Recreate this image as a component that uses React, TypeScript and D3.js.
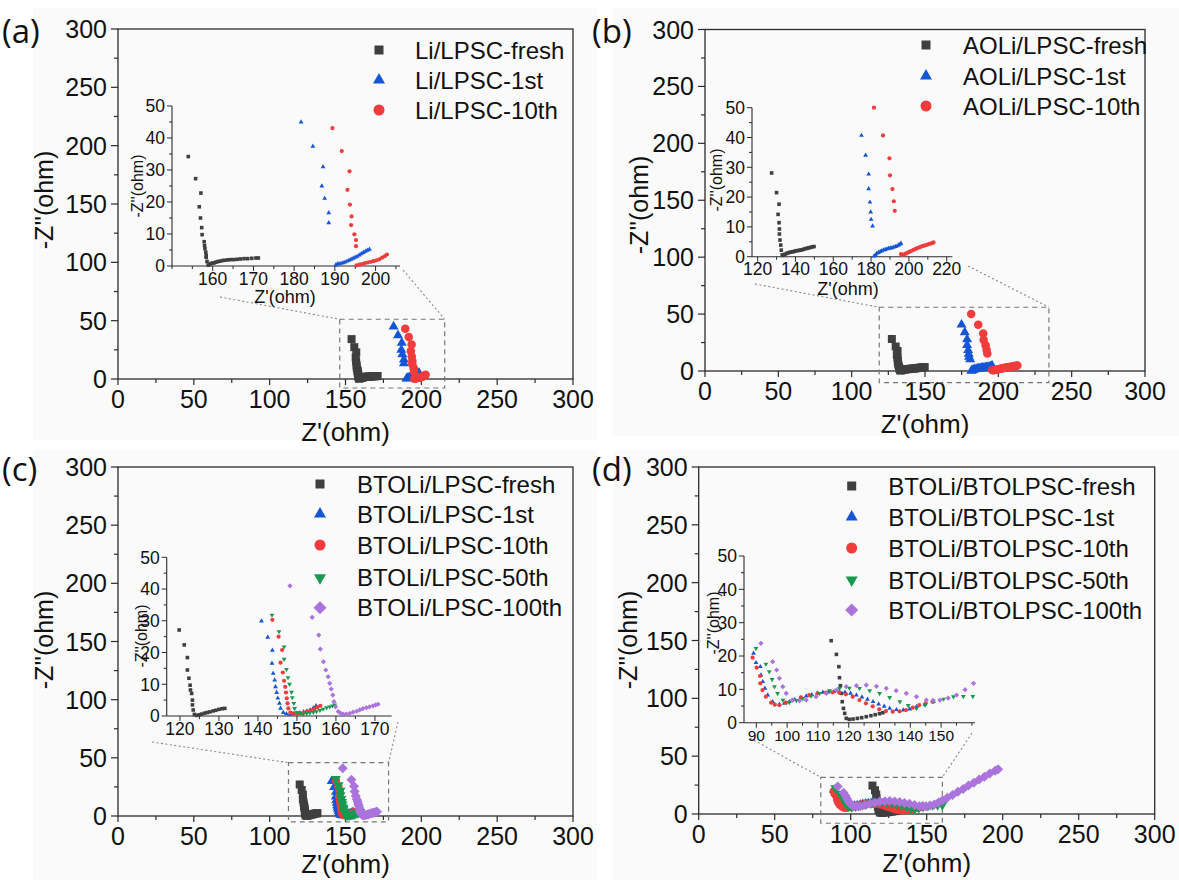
import React from 'react';
import * as d3 from 'd3';

type P = [number, number];

// ---------- DATA ----------
const MAIN_TICKS = [0, 50, 100, 150, 200, 250, 300];

const A_FRESH: P[] = [[154.0,34.2],[155.8,27.3],[157.1,22.8],[156.7,18.5],[157.0,15.0],[157.3,12.0],[157.4,9.8],[157.9,7.6],[158.0,6.4],[158.1,5.4],[158.3,4.3],[158.4,3.2],[158.4,2.7],[158.6,1.4],[158.9,0.3],[159.3,0.5],[159.6,0.8],[160.0,0.9],[160.4,1.0],[160.8,1.2],[161.3,1.4],[161.8,1.5],[162.4,1.7],[163.0,1.8],[163.7,1.9],[164.4,2.0],[165.2,2.0],[166.0,2.1],[166.8,2.2],[167.7,2.3],[168.6,2.3],[169.6,2.4],[170.6,2.5],[171.2,2.5]];
const A_1ST: P[] = [[181.7,45.0],[184.6,37.4],[187.1,31.0],[186.8,25.0],[187.5,21.1],[188.5,16.6],[188.5,13.5],[190.2,0.3],[190.6,0.6],[191.0,0.7],[191.5,0.8],[192.0,1.0],[192.5,1.2],[193.0,1.5],[193.5,1.8],[194.0,2.1],[194.5,2.4],[195.0,2.7],[195.5,3.0],[196.0,3.4],[196.5,3.8],[197.0,4.2],[197.5,4.6],[198.0,4.9],[198.5,5.2]];
const A_10TH: P[] = [[189.4,43.1],[191.7,35.9],[193.6,29.6],[193.1,23.8],[193.7,19.2],[194.1,15.5],[194.0,12.8],[194.8,9.9],[195.2,8.1],[195.2,6.2],[195.3,0.2],[196.0,0.4],[196.7,0.6],[197.4,0.9],[198.1,1.1],[198.8,1.3],[199.5,1.5],[200.2,1.8],[200.9,2.1],[201.6,2.6],[202.3,3.1],[202.8,3.6]];

const B_FRESH: P[] = [[127.4,28.1],[130.0,21.5],[131.3,17.6],[130.8,14.2],[131.3,11.4],[131.5,9.3],[131.5,7.6],[131.8,5.6],[132.2,3.9],[132.5,2.2],[133.0,0.6],[133.6,0.45],[134.4,0.8],[135.3,1.1],[136.2,1.3],[137.1,1.5],[138.0,1.6],[138.9,1.7],[139.8,1.9],[140.7,2.0],[141.6,2.1],[142.5,2.2],[143.4,2.3],[144.3,2.5],[145.2,2.7],[146.1,2.8],[147.0,3.0],[147.9,3.1],[148.8,3.3],[149.8,3.4]];
const B_1ST: P[] = [[174.9,40.7],[177.1,34.0],[178.7,27.7],[178.7,22.8],[179.4,18.3],[179.8,15.0],[180.0,12.5],[180.8,10.3],[181.6,0.2],[182.3,0.6],[183.0,1.1],[183.9,1.4],[184.8,1.7],[185.7,2.0],[186.6,2.2],[187.5,2.4],[188.4,2.6],[189.3,2.8],[190.2,2.9],[191.1,3.0],[192.0,3.2],[192.9,3.4],[193.8,3.6],[194.6,3.9],[195.3,4.2],[195.8,4.5]];
const B_10TH: P[] = [[181.5,50.0],[186.3,40.7],[189.7,33.0],[190.0,27.3],[191.3,22.7],[192.0,18.6],[192.5,15.4],[195.8,0.9],[196.6,0.6],[197.5,0.8],[198.5,1.1],[199.5,1.4],[200.5,1.7],[201.5,2.0],[202.5,2.3],[203.5,2.6],[204.5,2.9],[205.5,3.1],[206.5,3.4],[207.5,3.6],[208.5,3.8],[209.5,4.0],[210.5,4.2],[211.5,4.4],[212.3,4.6],[213.0,4.8]];

const C_FRESH: P[] = [[119.8,27.1],[121.1,22.4],[121.9,18.4],[121.9,14.5],[122.3,11.9],[122.6,9.7],[122.7,8.2],[123.0,7.1],[123.2,5.0],[123.2,3.5],[123.4,1.9],[123.7,0.5],[124.3,0.2],[125.0,0.4],[125.6,0.6],[126.3,0.9],[127.0,1.1],[127.7,1.3],[128.5,1.6],[129.2,1.8],[130.0,2.1],[130.8,2.3],[131.5,2.4]];
const C_1ST: P[] = [[140.9,29.9],[142.5,24.8],[143.7,20.7],[143.6,16.6],[143.9,13.4],[144.3,11.3],[144.5,9.2],[144.8,7.4],[145.1,5.6],[145.5,4.0],[145.8,2.4],[146.5,1.1],[147.3,0.7],[148.2,0.5],[149.0,0.6],[149.9,0.8],[150.8,1.0],[151.7,1.3],[152.6,1.6],[153.4,1.9],[154.2,2.5],[154.9,3.2]];
const C_10TH: P[] = [[143.7,30.3],[145.3,25.0],[146.2,20.8],[145.8,16.8],[146.4,13.7],[146.7,11.1],[147.0,9.2],[147.2,7.4],[147.4,5.6],[147.6,4.0],[147.8,2.4],[148.3,1.1],[149.1,0.8],[150.0,0.6],[150.9,0.8],[151.8,1.1],[152.6,1.4],[153.5,1.8],[154.4,2.2],[155.2,2.7],[156.0,3.2]];
const C_50TH: P[] = [[143.6,31.8],[145.4,26.6],[146.7,21.8],[146.7,17.9],[147.3,14.7],[147.7,12.1],[148.1,10.0],[148.6,7.5],[148.8,5.8],[149.2,4.0],[149.4,2.4],[150.0,1.1],[150.8,0.8],[151.6,0.6],[152.5,0.8],[153.3,1.0],[154.2,1.2],[155.0,1.4],[155.9,1.8],[156.7,2.2],[157.6,2.6],[158.4,2.9],[159.1,3.2],[159.7,3.5]];
const C_100TH: P[] = [[148.2,41.0],[153.9,31.1],[155.6,25.5],[156.0,21.1],[156.8,17.1],[157.4,14.5],[158.0,12.4],[158.4,10.3],[158.8,8.5],[159.2,6.6],[159.5,4.5],[159.9,2.9],[160.6,1.4],[161.2,0.9],[161.8,0.6],[162.6,0.6],[163.5,0.8],[164.4,1.2],[165.3,1.5],[166.1,1.9],[166.9,2.3],[167.8,2.6],[168.6,2.9],[169.5,3.2],[170.2,3.5],[170.8,3.7]];

const D_FRESH: P[] = [[114.3,24.6],[116.0,20.5],[116.8,16.8],[117.0,13.5],[117.3,11.1],[117.6,8.8],[117.9,6.3],[118.3,4.3],[118.7,2.8],[119.2,1.3],[120.2,1.0],[121.4,1.1],[122.8,1.3],[124.2,1.5],[125.7,1.8],[127.2,2.1],[128.6,2.4],[130.0,2.7],[131.1,3.0]];
const D_1ST: P[] = [[89.1,20.8],[89.9,18.0],[91.3,16.8],[91.5,14.3],[92.1,12.3],[92.8,10.3],[93.7,8.3],[95.3,6.3],[97.5,5.5],[99.1,5.8],[100.7,6.3],[102.5,6.9],[104.3,7.4],[106.2,8.0],[108.0,8.4],[109.8,8.8],[111.6,9.1],[113.4,9.2],[115.2,9.3],[117.0,9.3],[118.8,9.1],[120.6,8.8],[122.5,8.3],[124.3,7.7],[126.1,7.0],[127.9,6.3],[129.7,5.6],[131.5,4.9],[133.3,4.3],[135.5,3.9],[137.7,3.8],[139.8,4.1],[142.0,4.8],[144.7,5.5],[147.5,6.3]];
const D_10TH: P[] = [[88.8,19.5],[90.1,16.5],[91.2,14.0],[91.3,11.8],[92.0,9.8],[93.1,7.8],[94.8,6.0],[96.0,5.4],[97.5,5.3],[99.6,6.0],[101.8,6.8],[104.5,7.6],[107.2,8.3],[109.9,8.8],[112.6,9.0],[114.8,9.1],[116.9,9.0],[119.1,8.5],[121.3,7.8],[123.5,6.8],[125.6,5.8],[127.8,4.9],[129.9,4.0],[132.1,3.5],[134.3,3.3],[136.5,3.4],[138.6,3.8],[140.8,4.5],[142.9,5.3],[145.0,5.8],[147.2,6.3]];
const D_50TH: P[] = [[89.9,22.3],[93.1,17.6],[94.2,15.3],[95.1,13.0],[95.9,10.8],[96.9,8.8],[98.6,6.8],[100.7,6.1],[103.0,6.7],[105.1,7.3],[107.8,8.0],[110.5,8.8],[113.8,9.6],[117.0,10.3],[120.2,10.4],[123.5,10.3],[126.8,9.6],[130.0,8.8],[133.3,7.6],[136.6,6.3],[139.3,5.2],[142.0,4.3],[144.8,5.3],[147.5,6.3],[150.8,7.1],[154.0,7.8],[157.2,7.9],[160.3,7.9]];
const D_100TH: P[] = [[91.5,23.8],[95.3,18.3],[96.6,15.8],[97.5,13.3],[98.6,10.8],[99.7,8.8],[101.8,6.8],[104.0,6.6],[106.2,6.8],[109.4,7.8],[112.7,8.8],[116.0,9.8],[119.2,10.8],[122.5,11.1],[125.7,11.3],[129.0,10.9],[132.2,10.3],[135.4,9.6],[138.7,8.8],[142.0,7.8],[145.2,6.8],[147.4,6.7],[149.6,6.8],[152.3,7.4],[155.0,8.3],[157.8,9.9],[160.5,11.8],[163.5,14.0],[167.0,16.4],[170.5,19.3],[174.0,21.7],[177.5,24.6],[181.0,27.1],[184.5,29.9],[188.0,32.2],[191.5,35.0],[195.0,37.3],[197.0,38.6]];

const LEG_A = ['Li/LPSC-fresh', 'Li/LPSC-1st', 'Li/LPSC-10th'];
const LEG_B = ['AOLi/LPSC-fresh', 'AOLi/LPSC-1st', 'AOLi/LPSC-10th'];
const LEG_C = ['BTOLi/LPSC-fresh', 'BTOLi/LPSC-1st', 'BTOLi/LPSC-10th', 'BTOLi/LPSC-50th', 'BTOLi/LPSC-100th'];
const LEG_D = ['BTOLi/BTOLPSC-fresh', 'BTOLi/BTOLPSC-1st', 'BTOLi/BTOLPSC-10th', 'BTOLi/BTOLPSC-50th', 'BTOLi/BTOLPSC-100th'];

const INSET_TICKS_A = [160, 170, 180, 190, 200];
const INSET_TICKS_B = [120, 140, 160, 180, 200, 220];
const INSET_TICKS_C = [120, 130, 140, 150, 160, 170];
const INSET_TICKS_D = [90, 100, 110, 120, 130, 140, 150];
const INSET_Y_TICKS = [0, 10, 20, 30, 40, 50];

// zoom rectangles [x0, x1, y0, y1] in data units
const ZOOM_A = [146.2, 215.4, -7.7, 51.2];
const ZOOM_B = [118.8, 234.5, -10.3, 56];
const ZOOM_C = [112.4, 178.4, -5, 45.8];
const ZOOM_D = [80.3, 160.3, -8, 31.7];

// ---------- STYLE ----------
const FONT = "'Liberation Sans', Arial, Helvetica, sans-serif";
const AX = '#2b2b2b';
const COLORS = ['#3f3f3f', '#1556d6', '#f23b3b', '#179a4f', '#ab73dc'];
const SHAPES = ['square', 'triangle', 'circle', 'down', 'diamond'];

function symPath(shape: string, w: number): string {
  switch (shape) {
    case 'square': return d3.symbol(d3.symbolSquare, w * w)() as string;
    case 'circle': return d3.symbol(d3.symbolCircle, (Math.PI * w * w) / 4)() as string;
    case 'triangle':
    case 'down': return d3.symbol(d3.symbolTriangle, (Math.sqrt(3) / 4) * w * w)() as string;
    case 'diamond': return d3.symbol(d3.symbolSquare, (w * w) / 2)() as string;
  }
  return '';
}
function symRot(shape: string) {
  if (shape === 'down') return ' rotate(180)';
  if (shape === 'diamond') return ' rotate(45)';
  return '';
}
const MAIN_W: Record<string, number> = { square: 8, triangle: 10, circle: 8.5, down: 10, diamond: 10 };
const INSET_W: Record<string, number> = { square: 3.6, triangle: 4.8, circle: 4.2, down: 4.8, diamond: 5.2 };
const LEG_W: Record<string, number> = { square: 9, triangle: 12, circle: 11, down: 12, diamond: 13 };

interface Cfg {
  label: string; labelX: number; labelY: number;
  x0: number; x1: number; y0: number; y1: number;
  yTitleX: number; yTitleY: number; xTitleDy: number;
  series: P[][]; legend: string[];
  legX: number; legTX: number; legY: number[];
  inX: [number, number]; inXR: [number, number]; inYR: [number, number];
  inTicks: number[]; inMinor: number; inTickFont: number; inTitle: [number, number] | null;
  inYTitle: [number, number];
  zoom: number[]; conn: [number, number][];
  bg: [number, number, number, number];
}

const PANELS: Cfg[] = [
  {
    label: '(a)', labelX: 2, labelY: 43, x0: 118, x1: 573, y0: 379, y1: 29,
    yTitleX: 44, yTitleY: 200, xTitleDy: 62, series: [A_FRESH, A_1ST, A_10TH], legend: LEG_A,
    legX: 379, legTX: 415, legY: [50, 80, 110],
    inX: [150, 206], inXR: [172, 400], inYR: [266, 106], inTicks: INSET_TICKS_A, inMinor: 5, inTickFont: 17.5,
    inTitle: [285, 303], inYTitle: [137, 186], zoom: ZOOM_A, conn: [[220, 297], [403, 270]],
    bg: [33, 8, 597, 440],
  },
  {
    label: '(b)', labelX: 592, labelY: 43, x0: 705, x1: 1145, y0: 371, y1: 29.5,
    yTitleX: 639, yTitleY: 205, xTitleDy: 62, series: [B_FRESH, B_1ST, B_10TH], legend: LEG_B,
    legX: 926, legTX: 963, legY: [45, 76, 106],
    inX: [117, 223], inXR: [752, 952.4], inYR: [256.7, 107.7], inTicks: INSET_TICKS_B, inMinor: 10, inTickFont: 17.5,
    inTitle: [848, 295], inYTitle: [716, 180], zoom: ZOOM_B, conn: [[755, 284], [968, 266]],
    bg: [613, 8, 1179, 436],
  },
  {
    label: '(c)', labelX: 2, labelY: 481, x0: 118, x1: 573, y0: 816, y1: 467,
    yTitleX: 44, yTitleY: 640, xTitleDy: 57, series: [C_FRESH, C_1ST, C_10TH, C_50TH, C_100TH], legend: LEG_C,
    legX: 320, legTX: 357, legY: [484, 514, 545, 577.7, 607.7],
    inX: [116.6, 174.3], inXR: [166.7, 391.7], inYR: [716, 557.3], inTicks: INSET_TICKS_C, inMinor: 5, inTickFont: 17.5,
    inTitle: null, inYTitle: [141, 636], zoom: ZOOM_C, conn: [[152, 742], [398, 722]],
    bg: [33, 450, 597, 880],
  },
  {
    label: '(d)', labelX: 592, labelY: 481, x0: 698.7, x1: 1154.7, y0: 814, y1: 467,
    yTitleX: 628, yTitleY: 640, xTitleDy: 58, series: [D_FRESH, D_1ST, D_10TH, D_50TH, D_100TH], legend: LEG_D,
    legX: 851.7, legTX: 888.3, legY: [486, 517, 548, 580, 610],
    inX: [86, 161], inXR: [744, 975], inYR: [722.7, 556], inTicks: INSET_TICKS_D, inMinor: 5, inTickFont: 15.5,
    inTitle: null, inYTitle: [713, 623], zoom: ZOOM_D, conn: [[750, 738], [972, 733]],
    bg: [613, 450, 1179, 880],
  },
];

function Markers({ data, shape, color, w, x, y }: any) {
  const d = symPath(shape, w);
  const r = symRot(shape);
  return (
    <g fill={color}>
      {data.map((p: P, i: number) => (
        <path key={i} d={d} transform={`translate(${x(p[0])},${y(p[1])})${r}`} />
      ))}
    </g>
  );
}

function Panel({ c }: { c: Cfg }) {
  const x = d3.scaleLinear().domain([0, 300]).range([c.x0, c.x1]);
  const y = d3.scaleLinear().domain([0, 300]).range([c.y0, c.y1]);
  const minor = d3.range(0, 301, 25);
  const ix = d3.scaleLinear().domain(c.inX).range(c.inXR);
  const iy = d3.scaleLinear().domain([0, 50]).range(c.inYR);
  const iMinorX = d3.range(Math.ceil(c.inX[0] / c.inMinor) * c.inMinor, c.inX[1] + 0.01, c.inMinor);
  const iMinorY = d3.range(0, 50.01, 5);
  const z = c.zoom;
  const zx0 = x(z[0]), zx1 = x(z[1]), zy0 = y(z[3]), zy1 = y(z[2]);
  return (
    <g>
      <rect x={c.bg[0]} y={c.bg[1]} width={c.bg[2] - c.bg[0]} height={c.bg[3] - c.bg[1]} fill="#fafafa" />
      <text x={c.labelX} y={c.labelY} fontFamily="'Open Sans', 'Noto Sans', sans-serif" fontSize={33} fill="#111">{c.label}</text>

      {/* main frame */}
      <rect x={c.x0} y={c.y1} width={c.x1 - c.x0} height={c.y0 - c.y1} fill="none" stroke={AX} strokeWidth={1.3} />
      {minor.map((t) => (
        <g key={'m' + t}>
          <line x1={x(t)} x2={x(t)} y1={c.y0} y2={c.y0 + (t % 50 === 0 ? 6 : 4)} stroke={AX} strokeWidth={1.2} />
          <line x1={c.x0} x2={c.x0 - (t % 50 === 0 ? 7 : 4)} y1={y(t)} y2={y(t)} stroke={AX} strokeWidth={1.2} />
        </g>
      ))}
      {MAIN_TICKS.map((t) => (
        <g key={'t' + t} fontFamily={FONT} fontSize={25} fill="#111">
          <text x={x(t)} y={c.y0 + 29} textAnchor="middle">{t}</text>
          <text x={c.x0 - 11} y={y(t) + 9} textAnchor="end">{t}</text>
        </g>
      ))}
      <text x={(c.x0 + c.x1) / 2} y={c.y0 + c.xTitleDy} textAnchor="middle" fontFamily={FONT} fontSize={26} fill="#111">Z'(ohm)</text>
      <text transform={`translate(${c.yTitleX},${c.yTitleY}) rotate(-90)`} textAnchor="middle" dominantBaseline="central" fontFamily={FONT} fontSize={25} fill="#111">-Z''(ohm)</text>

      {/* zoom box + connectors */}
      <rect x={zx0} y={zy0} width={zx1 - zx0} height={zy1 - zy0} fill="none" stroke="#777" strokeWidth={1.2} strokeDasharray="5,4" />
      <line x1={c.conn[0][0]} y1={c.conn[0][1]} x2={zx0} y2={zy0} stroke="#888" strokeWidth={1.1} strokeDasharray="2,2.5" />
      <line x1={c.conn[1][0]} y1={c.conn[1][1]} x2={zx1} y2={zy0} stroke="#888" strokeWidth={1.1} strokeDasharray="2,2.5" />

      {/* main markers */}
      {c.series.map((s, i) => (
        <Markers key={'ms' + i} data={s} shape={SHAPES[i]} color={COLORS[i]} w={MAIN_W[SHAPES[i]]} x={x} y={y} />
      ))}

      {/* legend */}
      {c.legend.map((name, i) => (
        <g key={'l' + i}>
          <path d={symPath(SHAPES[i], LEG_W[SHAPES[i]])} transform={`translate(${c.legX},${c.legY[i]})${symRot(SHAPES[i])}`} fill={COLORS[i]} />
          <text x={c.legTX} y={c.legY[i] + 8.5} fontFamily={FONT} fontSize={24} fill="#111">{name}</text>
        </g>
      ))}

      {/* inset */}
      <line x1={c.inXR[0]} x2={c.inXR[1]} y1={c.inYR[0]} y2={c.inYR[0]} stroke={AX} strokeWidth={1.1} />
      <line x1={c.inXR[0]} x2={c.inXR[0]} y1={c.inYR[0]} y2={c.inYR[1]} stroke={AX} strokeWidth={1.1} />
      {iMinorX.map((t) => (
        <line key={'ix' + t} x1={ix(t)} x2={ix(t)} y1={c.inYR[0]} y2={c.inYR[0] + (c.inTicks.includes(t) ? 5 : 3)} stroke={AX} strokeWidth={1} />
      ))}
      {iMinorY.map((t) => (
        <line key={'iy' + t} x1={c.inXR[0]} x2={c.inXR[0] - (t % 10 === 0 ? 5 : 3)} y1={iy(t)} y2={iy(t)} stroke={AX} strokeWidth={1} />
      ))}
      {c.inTicks.map((t) => (
        <text key={'ixl' + t} x={ix(t)} y={c.inYR[0] + 18.5} textAnchor="middle" fontFamily={FONT} fontSize={c.inTickFont} fill="#111">{t}</text>
      ))}
      {INSET_Y_TICKS.map((t) => (
        <text key={'iyl' + t} x={c.inXR[0] - 7} y={iy(t) + 6.3} textAnchor="end" fontFamily={FONT} fontSize={17.5} fill="#111">{t}</text>
      ))}
      {c.inTitle && (
        <text x={c.inTitle[0]} y={c.inTitle[1]} textAnchor="middle" fontFamily={FONT} fontSize={18} fill="#111">Z'(ohm)</text>
      )}
      <text transform={`translate(${c.inYTitle[0]},${c.inYTitle[1]}) rotate(-90)`} textAnchor="middle" dominantBaseline="central" fontFamily={FONT} fontSize={16} fill="#111">-Z''(ohm)</text>
      {c.series.map((s, i) => (
        <Markers key={'is' + i}
          data={s.filter((p) => p[0] >= c.inX[0] && p[0] <= c.inX[1] && p[1] <= 50.5)}
          shape={SHAPES[i]} color={COLORS[i]} w={INSET_W[SHAPES[i]]} x={ix} y={iy} />
      ))}
    </g>
  );
}

export default function App() {
  return (
    <svg width={1179} height={880} viewBox="0 0 1179 880"
      style={{ position: 'absolute', left: 0, top: 0, background: '#fff' }}>
      <rect x={0} y={0} width={1179} height={880} fill="#fff" />
      {PANELS.map((c) => <Panel key={c.label} c={c} />)}
    </svg>
  );
}
